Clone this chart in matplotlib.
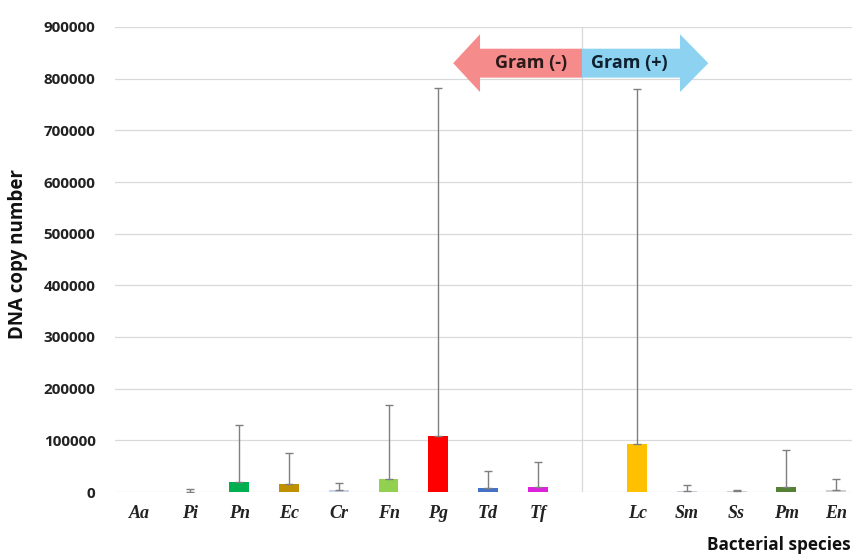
import numpy as np
import matplotlib
matplotlib.use("Agg")
import matplotlib.pyplot as plt
from matplotlib.patches import Polygon

# ---------------------------------------------------------------------------
# Mean DNA copy number per species, with upper standard deviation
# ---------------------------------------------------------------------------
species = ["Aa", "Pi", "Pn", "Ec", "Cr", "Fn", "Pg", "Td", "Tf",
           "Lc", "Sm", "Ss", "Pm", "En"]
gram_negative = ["Aa", "Pi", "Pn", "Ec", "Cr", "Fn", "Pg", "Td", "Tf"]
copy_mean = [0, 800, 19000, 15000, 3000, 25000, 109000, 7000, 10000,
             93000, 2500, 1000, 10000, 3000]
copy_sd = [0, 5500, 111000, 60000, 14000, 143000, 673000, 33000, 48000,
           687000, 11000, 2500, 72000, 22000]
bar_colors = ["#FFFFFF", "#D9D9D9", "#00B050", "#BF9000", "#C9D3E8", "#92D050",
              "#FF0000", "#4472C4", "#DD22DD", "#FFC000", "#C5CEDD",
              "#D0D0D0", "#548235", "#D0D0D0"]
yticks = np.arange(0, 900001, 100000)

# slot positions: one empty slot separates Gram(-) from Gram(+)
n_neg = len(gram_negative)
xpos = np.array([i if i < n_neg else i + 1 for i in range(len(species))])
divider_x = n_neg - 0.11

sans = "Open Sans"

fig = plt.figure(figsize=(8.53, 5.54), dpi=100)
ax_left, ax_bottom = 115 / 853, (554 - 492) / 554
ax_width, ax_height = (861 - 115) / 853, 465 / 554
ax = fig.add_axes([ax_left, ax_bottom, ax_width, ax_height])

ax.set_xlim(-0.5, 14.5)
ax.set_ylim(0, 900000)

# gridlines and the Gram divider
for yv in yticks:
    ax.axhline(yv, color="#D9D9D9", lw=0.9, zorder=0)
ax.axvline(divider_x, color="#D9D9D9", lw=0.9, zorder=0)

ax.bar(xpos, copy_mean, width=0.4, color=bar_colors, zorder=2)

# upper error bars only, skipped where there is no spread
mean = np.array(copy_mean)
sd = np.array(copy_sd)
has_sd = sd > 0
ax.errorbar(xpos[has_sd], mean[has_sd],
            yerr=[np.zeros(has_sd.sum()), sd[has_sd]],
            fmt="none", ecolor="#7F7F7F", elinewidth=1.0, capsize=3,
            capthick=1.0, zorder=3)

for s in ax.spines.values():
    s.set_visible(False)
ax.tick_params(length=0)
ax.set_yticks(yticks)
ax.set_yticklabels([f"{v:d}" for v in yticks], fontfamily=sans,
                   fontweight="bold", fontsize=11, color="#222222")
ax.tick_params(axis="y", pad=14)
ax.set_xticks(xpos)
ax.set_xticklabels(species, fontfamily="Liberation Serif", fontweight="bold",
                   fontstyle="italic", fontsize=13, color="#222222")
ax.tick_params(axis="x", pad=9)

fig.text(18 / 853, 1 - 254 / 554, "DNA copy number", rotation=90,
         ha="center", va="center", fontfamily=sans, fontweight="bold",
         fontsize=13.5, color="#111111")
fig.text(851 / 853, 1 - 545 / 554, "Bacterial species", ha="right",
         va="center", fontfamily=sans, fontweight="bold", fontsize=12.3,
         color="#111111")

# Gram(-) / Gram(+) double arrow, split at the divider
x0 = divider_x
yc, body, head = 830000, 28000, 56000
left_arrow = [(x0, yc + body), (6.84, yc + body), (6.84, yc + head),
              (6.30, yc), (6.84, yc - head), (6.84, yc - body),
              (x0, yc - body)]
right_arrow = [(x0, yc + body), (10.86, yc + body), (10.86, yc + head),
               (11.43, yc), (10.86, yc - head), (10.86, yc - body),
               (x0, yc - body)]
ax.add_patch(Polygon(left_arrow, closed=True, facecolor="#F68B8C",
                     edgecolor="none", zorder=4, clip_on=False))
ax.add_patch(Polygon(right_arrow, closed=True, facecolor="#8DD3F1",
                     edgecolor="none", zorder=4, clip_on=False))
ax.text(7.86, yc, "Gram (-)", ha="center", va="center", fontfamily=sans,
        fontweight="bold", fontsize=13, color="#2A1A1A", zorder=5)
ax.text(9.84, yc, "Gram (+)", ha="center", va="center", fontfamily=sans,
        fontweight="bold", fontsize=13, color="#0F2030", zorder=5)

fig.savefig("out.png", dpi=100)
